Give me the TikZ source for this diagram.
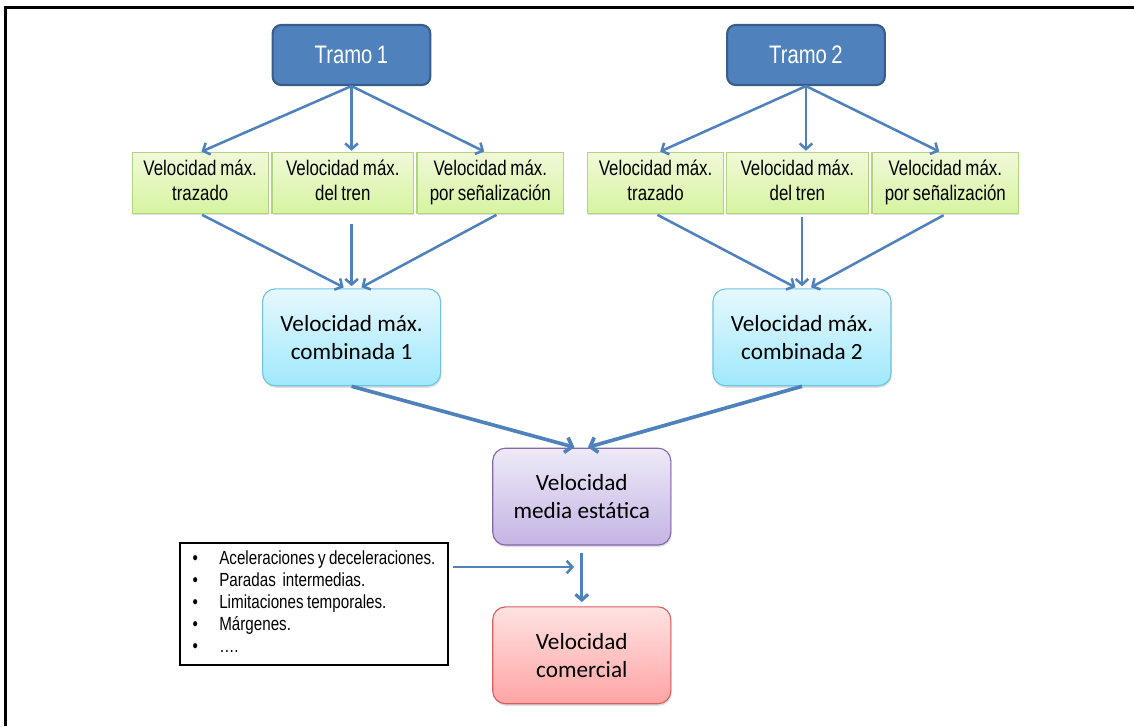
\documentclass[tikz,border=0pt]{standalone}
\usepackage{fontspec}
\setmainfont{Liberation Sans}
\newfontfamily\narrowfont[FakeStretch=0.8, WordSpace=0.8]{Liberation Sans}
\newfontfamily\calfont{Carlito}
\usetikzlibrary{arrows.meta,shadows}

\definecolor{azul}{RGB}{79,129,189}
\definecolor{azulborde}{RGB}{56,93,138}
\definecolor{verdearriba}{RGB}{240,249,216}
\definecolor{verdeabajo}{RGB}{214,244,160}
\definecolor{verdeborde}{RGB}{178,212,128}
\definecolor{cielarriba}{RGB}{230,248,254}
\definecolor{cielabajo}{RGB}{160,232,252}
\definecolor{cielborde}{RGB}{110,196,226}
\definecolor{lilaarriba}{RGB}{238,234,248}
\definecolor{lilaabajo}{RGB}{196,180,228}
\definecolor{lilaborde}{RGB}{130,104,168}
\definecolor{rosaarriba}{RGB}{255,226,226}
\definecolor{rosaabajo}{RGB}{255,164,164}
\definecolor{rosaborde}{RGB}{214,96,96}

\begin{document}
\begin{tikzpicture}[x=0.025cm, y=-0.025cm,
        tramo/.style={draw=azulborde, line width=1.5pt, fill=azul, rounded corners=6pt,
            minimum width=3.94cm, minimum height=1.5cm, text=white,
            font=\narrowfont\fontsize{18}{20}\selectfont},
        limite/.style={draw=verdeborde, line width=0.8pt, top color=verdearriba, bottom color=verdeabajo,
            minimum height=1.515cm, align=center, inner sep=1pt,
            font=\narrowfont\fontsize{15}{18}\selectfont,
            execute at begin node=\rule{0pt}{14.4pt}, execute at end node=\rule[-3.6pt]{0pt}{0pt},
            drop shadow={opacity=0.25, shadow xshift=0.5pt, shadow yshift=-1.5pt}},
        resultado/.style={line width=0.8pt, rounded corners=9pt, minimum width=4.45cm, minimum height=2.42cm,
            align=center, font=\calfont\fontsize{16.5}{19.7}\selectfont,
            drop shadow={opacity=0.25, shadow xshift=0.5pt, shadow yshift=-1.5pt}},
        flecha/.style={draw=azul, line width=1.8pt, -{Straight Barb[length=4pt, width=9pt]}},
        flechagruesa/.style={flecha, line width=2.6pt, -{Straight Barb[length=4.5pt, width=11pt]}}]

    \useasboundingbox (0,0) rectangle (1134,726);
    \draw[line width=1.6pt] (5.5,726) -- (5.5,7.5) -- (1134,7.5);

    \node[tramo] (tramo1) at (351.5,55) {Tramo 1};
    \node[tramo] (tramo2) at (806,55) {Tramo 2};

    \node[limite, minimum width=3.40cm] (va1) at (200.2,183) {Velocidad máx.\\trazado};
    \node[limite, minimum width=3.54cm] (vb1) at (342.8,183) {Velocidad máx.\\del tren};
    \node[limite, minimum width=3.665cm] (vc1) at (490.3,183) {Velocidad máx.\\por señalización};
    \node[limite, minimum width=3.40cm] (va2) at (655.6,183) {Velocidad máx.\\trazado};
    \node[limite, minimum width=3.54cm] (vb2) at (797.4,183) {Velocidad máx.\\del tren};
    \node[limite, minimum width=3.665cm] (vc2) at (945.3,183) {Velocidad máx.\\por señalización};

    \node[resultado, draw=cielborde, top color=cielarriba, bottom color=cielabajo] (comb1) at (351.6,337.3) {Velocidad máx.\\combinada 1};
    \node[resultado, draw=cielborde, top color=cielarriba, bottom color=cielabajo] (comb2) at (802,337.3) {Velocidad máx.\\combinada 2};
    \node[resultado, draw=lilaborde, top color=lilaarriba, bottom color=lilaabajo] (media) at (581.8,496.6) {Velocidad\\media estática};
    \node[resultado, draw=rosaborde, top color=rosaarriba, bottom color=rosaabajo] (comer) at (581.8,655.3) {Velocidad\\comercial};

    \node[draw, line width=1.6pt, minimum width=6.68cm, minimum height=3.05cm,
        font=\narrowfont\fontsize{13.5}{15.6}\selectfont] (lista) at (314,604.2)
        {\begin{tabular}{@{}p{19pt}@{}l@{}}
            \textbullet & Aceleraciones y deceleraciones.\\
            \textbullet & Paradas\ \ intermedias.\\
            \textbullet & Limitaciones temporales.\\
            \textbullet & Márgenes.\\
            \textbullet & ….
        \end{tabular}};

    \draw[flecha, shorten >=1pt] (tramo1.south) -- (va1.north);
    \draw[flecha, shorten >=1pt] (tramo1.south) -- (vb1.north -| tramo1.south);
    \draw[flecha, shorten >=1pt] (tramo1.south) -- ([xshift=-0.12cm]vc1.north);
    \draw[flecha, shorten >=1pt] (tramo2.south) -- ([xshift=0.08cm]va2.north);
    \draw[flecha, shorten >=1pt] (tramo2.south) -- (vb2.north -| tramo2.south);
    \draw[flecha, shorten >=1pt] (tramo2.south) -- ([xshift=-0.12cm]vc2.north);

    \draw[flecha, shorten <=1.5pt, shorten >=1.5pt] (va1.south) -- ([xshift=-0.15cm]comb1.north);
    \draw[flecha, shorten <=7pt, shorten >=1.5pt] (vb1.south -| comb1.north) -- (comb1.north);
    \draw[flecha, shorten <=1.5pt, shorten >=1.5pt] ([xshift=0.2cm]vc1.south) -- ([xshift=0.2cm]comb1.north);
    \draw[flecha, shorten <=1.5pt, shorten >=1.5pt] (va2.south) -- ([xshift=-0.12cm]comb2.north);
    \draw[flecha, shorten <=2pt, shorten >=1.5pt] (vb2.south -| comb2.north) -- (comb2.north);
    \draw[flecha, shorten <=2pt, shorten >=1.5pt] ([xshift=0.02cm]vc2.south) -- ([xshift=0.18cm]comb2.north);

    \draw[flechagruesa, shorten >=1pt] (comb1.south) -- ([xshift=-0.15cm]media.north);
    \draw[flechagruesa, shorten >=1pt] (comb2.south) -- ([xshift=0.12cm]media.north);
    \draw[flecha, line width=2.3pt, shorten <=5pt, shorten >=3pt] (media.south) -- (comer.north);

    \coordinate (llegada) at (574,567);
    \draw[flecha, shorten <=3pt] (lista.east |- llegada) -- (llegada);
\end{tikzpicture}
\end{document}
